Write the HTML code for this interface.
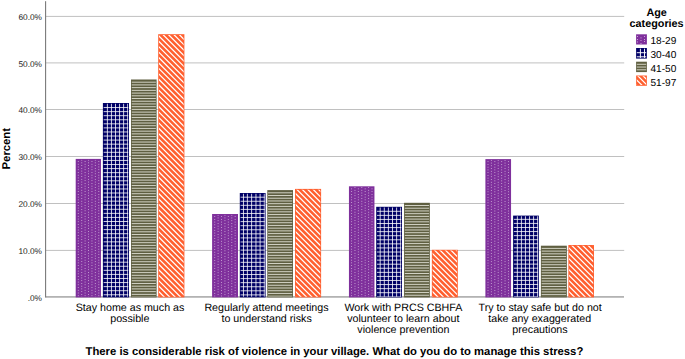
<!DOCTYPE html>
<html><head><meta charset="utf-8"><title>Chart</title>
<style>
html,body{margin:0;padding:0;background:#fff;}
body{width:685px;height:359px;overflow:hidden;font-family:"Liberation Sans",sans-serif;}
svg{display:block;}
text{font-family:"Liberation Sans",sans-serif;fill:#000;text-rendering:geometricPrecision;}
</style></head><body>
<svg width="685" height="359" viewBox="0 0 685 359">
<defs>
<clipPath id="b0"><rect x="76.45" y="159.65" width="23.77" height="137.00"/></clipPath>
<clipPath id="b1"><rect x="103.65" y="103.75" width="24.60" height="192.90"/></clipPath>
<clipPath id="b2"><rect x="131.75" y="80.25" width="24.10" height="216.40"/></clipPath>
<clipPath id="b3"><rect x="158.95" y="34.95" width="24.70" height="261.70"/></clipPath>
<clipPath id="b4"><rect x="212.85" y="214.75" width="24.40" height="81.90"/></clipPath>
<clipPath id="b5"><rect x="240.55" y="193.75" width="24.30" height="102.90"/></clipPath>
<clipPath id="b6"><rect x="268.05" y="190.85" width="24.20" height="105.80"/></clipPath>
<clipPath id="b7"><rect x="295.75" y="189.65" width="24.60" height="107.00"/></clipPath>
<clipPath id="b8"><rect x="349.70" y="187.05" width="24.00" height="109.60"/></clipPath>
<clipPath id="b9"><rect x="376.95" y="207.55" width="24.30" height="89.10"/></clipPath>
<clipPath id="b10"><rect x="404.80" y="203.55" width="24.30" height="93.10"/></clipPath>
<clipPath id="b11"><rect x="432.60" y="250.55" width="24.45" height="46.10"/></clipPath>
<clipPath id="b12"><rect x="486.15" y="159.85" width="24.15" height="136.80"/></clipPath>
<clipPath id="b13"><rect x="513.85" y="216.35" width="24.25" height="80.30"/></clipPath>
<clipPath id="b14"><rect x="541.65" y="246.45" width="24.45" height="50.20"/></clipPath>
<clipPath id="b15"><rect x="569.10" y="245.75" width="24.15" height="50.90"/></clipPath>
</defs>
<rect x="46" y="249.90" width="578.20" height="1" fill="#c0c0c0"/>
<rect x="46" y="203.00" width="578.20" height="1" fill="#c0c0c0"/>
<rect x="46" y="156.00" width="578.20" height="1" fill="#c0c0c0"/>
<rect x="46" y="109.00" width="578.20" height="1" fill="#c0c0c0"/>
<rect x="46" y="62.40" width="578.20" height="1" fill="#c0c0c0"/>
<rect x="46" y="15.90" width="578.20" height="1" fill="#c0c0c0"/>
<rect x="46" y="296.05" width="578.00" height="1.7" fill="#b0b0b0"/>
<rect x="75.70" y="158.90" width="25.27" height="138.50" fill="#7f309c"/>
<path clip-path="url(#b0)" stroke="#f4eaf8" stroke-width="0.75" stroke-dasharray="0.75 1.99" fill="none" d="M78.3 161.12V297.4M81.71 159.75V297.4M85.12 161.12V297.4M88.53 159.75V297.4M91.94 161.12V297.4M95.35 159.75V297.4M98.76 161.12V297.4"/>
<rect x="102.90" y="103.00" width="26.10" height="194.40" fill="#000066"/>
<path clip-path="url(#b1)" stroke="#ffffff" stroke-width="0.8" fill="none" d="M107.4 103V297.4M111.45 103V297.4M115.5 103V297.4M119.55 103V297.4M123.6 103V297.4M127.65 103V297.4M102.9 107.54H129M102.9 111.61H129M102.9 115.68H129M102.9 119.75H129M102.9 123.82H129M102.9 127.89H129M102.9 131.96H129M102.9 136.03H129M102.9 140.1H129M102.9 144.17H129M102.9 148.24H129M102.9 152.31H129M102.9 156.38H129M102.9 160.45H129M102.9 164.52H129M102.9 168.59H129M102.9 172.66H129M102.9 176.73H129M102.9 180.8H129M102.9 184.87H129M102.9 188.94H129M102.9 193.01H129M102.9 197.08H129M102.9 201.15H129M102.9 205.22H129M102.9 209.29H129M102.9 213.36H129M102.9 217.43H129M102.9 221.5H129M102.9 225.57H129M102.9 229.64H129M102.9 233.71H129M102.9 237.78H129M102.9 241.85H129M102.9 245.92H129M102.9 249.99H129M102.9 254.06H129M102.9 258.13H129M102.9 262.2H129M102.9 266.27H129M102.9 270.34H129M102.9 274.41H129M102.9 278.48H129M102.9 282.55H129M102.9 286.62H129M102.9 290.69H129M102.9 294.76H129"/>
<rect x="131.00" y="79.50" width="25.60" height="217.90" fill="#5f5f41"/>
<path clip-path="url(#b2)" stroke="#f4f4ea" stroke-width="0.78" fill="none" d="M131 82.2H156.6M131 84.92H156.6M131 87.64H156.6M131 90.36H156.6M131 93.08H156.6M131 95.8H156.6M131 98.52H156.6M131 101.24H156.6M131 103.96H156.6M131 106.68H156.6M131 109.4H156.6M131 112.12H156.6M131 114.84H156.6M131 117.56H156.6M131 120.28H156.6M131 123H156.6M131 125.72H156.6M131 128.44H156.6M131 131.16H156.6M131 133.88H156.6M131 136.6H156.6M131 139.32H156.6M131 142.04H156.6M131 144.76H156.6M131 147.48H156.6M131 150.2H156.6M131 152.92H156.6M131 155.64H156.6M131 158.36H156.6M131 161.08H156.6M131 163.8H156.6M131 166.52H156.6M131 169.24H156.6M131 171.96H156.6M131 174.68H156.6M131 177.4H156.6M131 180.12H156.6M131 182.84H156.6M131 185.56H156.6M131 188.28H156.6M131 191H156.6M131 193.72H156.6M131 196.44H156.6M131 199.16H156.6M131 201.88H156.6M131 204.6H156.6M131 207.32H156.6M131 210.04H156.6M131 212.76H156.6M131 215.48H156.6M131 218.2H156.6M131 220.92H156.6M131 223.64H156.6M131 226.36H156.6M131 229.08H156.6M131 231.8H156.6M131 234.52H156.6M131 237.24H156.6M131 239.96H156.6M131 242.68H156.6M131 245.4H156.6M131 248.12H156.6M131 250.84H156.6M131 253.56H156.6M131 256.28H156.6M131 259H156.6M131 261.72H156.6M131 264.44H156.6M131 267.16H156.6M131 269.88H156.6M131 272.6H156.6M131 275.32H156.6M131 278.04H156.6M131 280.76H156.6M131 283.48H156.6M131 286.2H156.6M131 288.92H156.6M131 291.64H156.6M131 294.36H156.6M131 297.08H156.6"/>
<rect x="158.20" y="34.20" width="26.20" height="263.20" fill="#ff6030"/>
<path clip-path="url(#b3)" stroke="#ffffff" stroke-width="1.25" fill="none" d="M158.2 2.64L184.4 28.84M158.2 8.08L184.4 34.28M158.2 13.52L184.4 39.72M158.2 18.96L184.4 45.16M158.2 24.4L184.4 50.6M158.2 29.84L184.4 56.04M158.2 35.28L184.4 61.48M158.2 40.72L184.4 66.92M158.2 46.16L184.4 72.36M158.2 51.6L184.4 77.8M158.2 57.04L184.4 83.24M158.2 62.48L184.4 88.68M158.2 67.92L184.4 94.12M158.2 73.36L184.4 99.56M158.2 78.8L184.4 105M158.2 84.24L184.4 110.44M158.2 89.68L184.4 115.88M158.2 95.12L184.4 121.32M158.2 100.56L184.4 126.76M158.2 106L184.4 132.2M158.2 111.44L184.4 137.64M158.2 116.88L184.4 143.08M158.2 122.32L184.4 148.52M158.2 127.76L184.4 153.96M158.2 133.2L184.4 159.4M158.2 138.64L184.4 164.84M158.2 144.08L184.4 170.28M158.2 149.52L184.4 175.72M158.2 154.96L184.4 181.16M158.2 160.4L184.4 186.6M158.2 165.84L184.4 192.04M158.2 171.28L184.4 197.48M158.2 176.72L184.4 202.92M158.2 182.16L184.4 208.36M158.2 187.6L184.4 213.8M158.2 193.04L184.4 219.24M158.2 198.48L184.4 224.68M158.2 203.92L184.4 230.12M158.2 209.36L184.4 235.56M158.2 214.8L184.4 241M158.2 220.24L184.4 246.44M158.2 225.68L184.4 251.88M158.2 231.12L184.4 257.32M158.2 236.56L184.4 262.76M158.2 242L184.4 268.2M158.2 247.44L184.4 273.64M158.2 252.88L184.4 279.08M158.2 258.32L184.4 284.52M158.2 263.76L184.4 289.96M158.2 269.2L184.4 295.4M158.2 274.64L184.4 300.84M158.2 280.08L184.4 306.28M158.2 285.52L184.4 311.72M158.2 290.96L184.4 317.16M158.2 296.4L184.4 322.6"/>
<rect x="212.10" y="214.00" width="25.90" height="83.40" fill="#7f309c"/>
<path clip-path="url(#b4)" stroke="#f4eaf8" stroke-width="0.75" stroke-dasharray="0.75 1.99" fill="none" d="M214.7 216.22V297.4M218.11 214.85V297.4M221.52 216.22V297.4M224.93 214.85V297.4M228.34 216.22V297.4M231.75 214.85V297.4M235.16 216.22V297.4"/>
<rect x="239.80" y="193.00" width="25.80" height="104.40" fill="#000066"/>
<path clip-path="url(#b5)" stroke="#ffffff" stroke-width="0.8" fill="none" d="M243.47 193V297.4M247.4 193V297.4M251.6 193V297.4M255.96 193V297.4M260.1 193V297.4M264.3 193V297.4M239.8 197.2H265.6M239.8 201.27H265.6M239.8 205.34H265.6M239.8 209.41H265.6M239.8 213.48H265.6M239.8 217.55H265.6M239.8 221.62H265.6M239.8 225.69H265.6M239.8 229.76H265.6M239.8 233.83H265.6M239.8 237.9H265.6M239.8 241.97H265.6M239.8 246.04H265.6M239.8 250.11H265.6M239.8 254.18H265.6M239.8 258.25H265.6M239.8 262.32H265.6M239.8 266.39H265.6M239.8 270.46H265.6M239.8 274.53H265.6M239.8 278.6H265.6M239.8 282.67H265.6M239.8 286.74H265.6M239.8 290.81H265.6M239.8 294.88H265.6"/>
<rect x="267.30" y="190.10" width="25.70" height="107.30" fill="#5f5f41"/>
<path clip-path="url(#b6)" stroke="#f4f4ea" stroke-width="0.78" fill="none" d="M267.3 192.8H293M267.3 195.52H293M267.3 198.24H293M267.3 200.96H293M267.3 203.68H293M267.3 206.4H293M267.3 209.12H293M267.3 211.84H293M267.3 214.56H293M267.3 217.28H293M267.3 220H293M267.3 222.72H293M267.3 225.44H293M267.3 228.16H293M267.3 230.88H293M267.3 233.6H293M267.3 236.32H293M267.3 239.04H293M267.3 241.76H293M267.3 244.48H293M267.3 247.2H293M267.3 249.92H293M267.3 252.64H293M267.3 255.36H293M267.3 258.08H293M267.3 260.8H293M267.3 263.52H293M267.3 266.24H293M267.3 268.96H293M267.3 271.68H293M267.3 274.4H293M267.3 277.12H293M267.3 279.84H293M267.3 282.56H293M267.3 285.28H293M267.3 288H293M267.3 290.72H293M267.3 293.44H293M267.3 296.16H293"/>
<rect x="295.00" y="188.90" width="26.10" height="108.50" fill="#ff6030"/>
<path clip-path="url(#b7)" stroke="#ffffff" stroke-width="1.25" fill="none" d="M295 160.4L321.1 186.5M295 165.84L321.1 191.94M295 171.28L321.1 197.38M295 176.72L321.1 202.82M295 182.16L321.1 208.26M295 187.6L321.1 213.7M295 193.04L321.1 219.14M295 198.48L321.1 224.58M295 203.92L321.1 230.02M295 209.36L321.1 235.46M295 214.8L321.1 240.9M295 220.24L321.1 246.34M295 225.68L321.1 251.78M295 231.12L321.1 257.22M295 236.56L321.1 262.66M295 242L321.1 268.1M295 247.44L321.1 273.54M295 252.88L321.1 278.98M295 258.32L321.1 284.42M295 263.76L321.1 289.86M295 269.2L321.1 295.3M295 274.64L321.1 300.74M295 280.08L321.1 306.18M295 285.52L321.1 311.62M295 290.96L321.1 317.06M295 296.4L321.1 322.5"/>
<rect x="348.95" y="186.30" width="25.50" height="111.10" fill="#7f309c"/>
<path clip-path="url(#b8)" stroke="#f4eaf8" stroke-width="0.75" stroke-dasharray="0.75 1.99" fill="none" d="M351.55 188.53V297.4M354.96 187.16V297.4M358.37 188.53V297.4M361.78 187.16V297.4M365.19 188.53V297.4M368.6 187.16V297.4M372.01 188.53V297.4"/>
<rect x="376.20" y="206.80" width="25.80" height="90.60" fill="#000066"/>
<path clip-path="url(#b9)" stroke="#ffffff" stroke-width="0.8" fill="none" d="M380.2 206.8V297.4M384.3 206.8V297.4M388.4 206.8V297.4M392.5 206.8V297.4M396.6 206.8V297.4M400.7 206.8V297.4M376.2 211.3H402M376.2 215.37H402M376.2 219.44H402M376.2 223.51H402M376.2 227.58H402M376.2 231.65H402M376.2 235.72H402M376.2 239.79H402M376.2 243.86H402M376.2 247.93H402M376.2 252H402M376.2 256.07H402M376.2 260.14H402M376.2 264.21H402M376.2 268.28H402M376.2 272.35H402M376.2 276.42H402M376.2 280.49H402M376.2 284.56H402M376.2 288.63H402M376.2 292.7H402M376.2 296.77H402"/>
<rect x="404.05" y="202.80" width="25.80" height="94.60" fill="#5f5f41"/>
<path clip-path="url(#b10)" stroke="#f4f4ea" stroke-width="0.78" fill="none" d="M404.05 205.5H429.85M404.05 208.22H429.85M404.05 210.94H429.85M404.05 213.66H429.85M404.05 216.38H429.85M404.05 219.1H429.85M404.05 221.82H429.85M404.05 224.54H429.85M404.05 227.26H429.85M404.05 229.98H429.85M404.05 232.7H429.85M404.05 235.42H429.85M404.05 238.14H429.85M404.05 240.86H429.85M404.05 243.58H429.85M404.05 246.3H429.85M404.05 249.02H429.85M404.05 251.74H429.85M404.05 254.46H429.85M404.05 257.18H429.85M404.05 259.9H429.85M404.05 262.62H429.85M404.05 265.34H429.85M404.05 268.06H429.85M404.05 270.78H429.85M404.05 273.5H429.85M404.05 276.22H429.85M404.05 278.94H429.85M404.05 281.66H429.85M404.05 284.38H429.85M404.05 287.1H429.85M404.05 289.82H429.85M404.05 292.54H429.85M404.05 295.26H429.85"/>
<rect x="431.85" y="249.80" width="25.95" height="47.60" fill="#ff6030"/>
<path clip-path="url(#b11)" stroke="#ffffff" stroke-width="1.25" fill="none" d="M431.85 220.24L457.8 246.19M431.85 225.68L457.8 251.63M431.85 231.12L457.8 257.07M431.85 236.56L457.8 262.51M431.85 242L457.8 267.95M431.85 247.44L457.8 273.39M431.85 252.88L457.8 278.83M431.85 258.32L457.8 284.27M431.85 263.76L457.8 289.71M431.85 269.2L457.8 295.15M431.85 274.64L457.8 300.59M431.85 280.08L457.8 306.03M431.85 285.52L457.8 311.47M431.85 290.96L457.8 316.91M431.85 296.4L457.8 322.35"/>
<rect x="485.40" y="159.10" width="25.65" height="138.30" fill="#7f309c"/>
<path clip-path="url(#b12)" stroke="#f4eaf8" stroke-width="0.75" stroke-dasharray="0.75 1.99" fill="none" d="M488 161.32V297.4M491.41 159.95V297.4M494.82 161.32V297.4M498.23 159.95V297.4M501.64 161.32V297.4M505.05 159.95V297.4M508.46 161.32V297.4"/>
<rect x="513.10" y="215.60" width="25.75" height="81.80" fill="#000066"/>
<path clip-path="url(#b13)" stroke="#ffffff" stroke-width="0.8" fill="none" d="M517.35 215.6V297.4M521.41 215.6V297.4M525.46 215.6V297.4M529.52 215.6V297.4M533.57 215.6V297.4M537.63 215.6V297.4M513.1 219.35H538.85M513.1 223.42H538.85M513.1 227.49H538.85M513.1 231.56H538.85M513.1 235.63H538.85M513.1 239.7H538.85M513.1 243.77H538.85M513.1 247.84H538.85M513.1 251.91H538.85M513.1 255.98H538.85M513.1 260.05H538.85M513.1 264.12H538.85M513.1 268.19H538.85M513.1 272.26H538.85M513.1 276.33H538.85M513.1 280.4H538.85M513.1 284.47H538.85M513.1 288.54H538.85M513.1 292.61H538.85M513.1 296.68H538.85"/>
<rect x="540.90" y="245.70" width="25.95" height="51.70" fill="#5f5f41"/>
<path clip-path="url(#b14)" stroke="#f4f4ea" stroke-width="0.78" fill="none" d="M540.9 248.4H566.85M540.9 251.12H566.85M540.9 253.84H566.85M540.9 256.56H566.85M540.9 259.28H566.85M540.9 262H566.85M540.9 264.72H566.85M540.9 267.44H566.85M540.9 270.16H566.85M540.9 272.88H566.85M540.9 275.6H566.85M540.9 278.32H566.85M540.9 281.04H566.85M540.9 283.76H566.85M540.9 286.48H566.85M540.9 289.2H566.85M540.9 291.92H566.85M540.9 294.64H566.85M540.9 297.36H566.85"/>
<rect x="568.35" y="245.00" width="25.65" height="52.40" fill="#ff6030"/>
<path clip-path="url(#b15)" stroke="#ffffff" stroke-width="1.25" fill="none" d="M568.35 214.8L594 240.45M568.35 220.24L594 245.89M568.35 225.68L594 251.33M568.35 231.12L594 256.77M568.35 236.56L594 262.21M568.35 242L594 267.65M568.35 247.44L594 273.09M568.35 252.88L594 278.53M568.35 258.32L594 283.97M568.35 263.76L594 289.41M568.35 269.2L594 294.85M568.35 274.64L594 300.29M568.35 280.08L594 305.73M568.35 285.52L594 311.17M568.35 290.96L594 316.61M568.35 296.4L594 322.05"/>
<rect x="45.08" y="1.2" width="1.05" height="296.40" fill="#747474"/>
<rect x="636.10" y="34.30" width="10.80" height="10.20" fill="#7f309c"/>
<rect x="636.10" y="48.00" width="10.80" height="10.60" fill="#000066"/>
<rect x="636.10" y="61.70" width="10.80" height="10.40" fill="#5f5f41"/>
<rect x="636.10" y="75.50" width="10.80" height="10.30" fill="#ff6030"/>
<g fill="#f4eaf8">
<rect x="637.10" y="36.10" width="0.8" height="0.8"/>
<rect x="644.00" y="36.10" width="0.8" height="0.8"/>
<rect x="640.60" y="37.50" width="0.8" height="0.8"/>
<rect x="637.10" y="39.20" width="0.8" height="0.8"/>
<rect x="644.00" y="39.20" width="0.8" height="0.8"/>
<rect x="640.60" y="40.20" width="0.8" height="0.8"/>
<rect x="637.10" y="41.60" width="0.8" height="0.8"/>
<rect x="644.00" y="41.00" width="0.8" height="0.8"/>
<rect x="640.60" y="43.00" width="0.8" height="0.8"/>
</g>
<path stroke="#fff" stroke-width="0.95" fill="none" d="M640.4 48.7V57.9M644.5 48.7V57.9M636.8 52.7H646.2M636.8 56.8H646.2"/>
<path stroke="#f4f4ea" stroke-width="0.78" fill="none" d="M636.8 64.3H646.2M636.8 67.05H646.2M636.8 69.8H646.2"/>
<clipPath id="cl3"><rect x="636.8" y="76.2" width="9.4" height="8.9"/></clipPath>
<path clip-path="url(#cl3)" stroke="#fff" stroke-width="1.25" fill="none" d="M630 78.57L650 98.57M630 73.30L650 93.30M630 68.03L650 88.03M630 62.76L650 82.76M630 57.49L650 77.49"/>
<g fill="#000" font-size="10.7">
<text x="42" y="300.8" text-anchor="end" font-size="8.3" style="fill:#1a1a1a">.0%</text>
<text x="42" y="254.3" text-anchor="end" font-size="8.3" style="fill:#1a1a1a">10.0%</text>
<text x="42" y="207.4" text-anchor="end" font-size="8.3" style="fill:#1a1a1a">20.0%</text>
<text x="42" y="160.4" text-anchor="end" font-size="8.3" style="fill:#1a1a1a">30.0%</text>
<text x="42" y="113.4" text-anchor="end" font-size="8.3" style="fill:#1a1a1a">40.0%</text>
<text x="42" y="66.8" text-anchor="end" font-size="8.3" style="fill:#1a1a1a">50.0%</text>
<text x="42" y="20.3" text-anchor="end" font-size="8.3" style="fill:#1a1a1a">60.0%</text>
<text transform="translate(9.5 148.7) rotate(-90)" text-anchor="middle" font-weight="bold" font-size="11.3">Percent</text>
<text x="130.0" y="311.3" text-anchor="middle">Stay home as much as</text>
<text x="129.8" y="322.1" text-anchor="middle">possible</text>
<text x="266.5" y="311.3" text-anchor="middle">Regularly attend meetings</text>
<text x="266.6" y="322.1" text-anchor="middle">to understand risks</text>
<text x="403.4" y="311.3" text-anchor="middle">Work with PRCS CBHFA</text>
<text x="403.3" y="322.1" text-anchor="middle">volunteer to learn about</text>
<text x="403.4" y="332.9" text-anchor="middle">violence prevention</text>
<text x="540.2" y="311.3" text-anchor="middle">Try to stay safe but do not</text>
<text x="539.7" y="322.1" text-anchor="middle">take any exaggerated</text>
<text x="540.0" y="332.9" text-anchor="middle">precautions</text>
<text x="334.4" y="355" text-anchor="middle" font-weight="bold" font-size="11.3">There is considerable risk of violence in your village. What do you do to manage this stress?</text>
<text x="656.6" y="15.9" text-anchor="middle" font-weight="bold" font-size="10.8">Age</text>
<text x="656.6" y="26.5" text-anchor="middle" font-weight="bold" font-size="10.8">categories</text>
<text x="676.3" y="44.4" text-anchor="end" font-size="10.1">18-29</text>
<text x="676.3" y="58.3" text-anchor="end" font-size="10.1">30-40</text>
<text x="676.3" y="72.3" text-anchor="end" font-size="10.1">41-50</text>
<text x="676.3" y="85.8" text-anchor="end" font-size="10.1">51-97</text>
</g>
</svg></body></html>
